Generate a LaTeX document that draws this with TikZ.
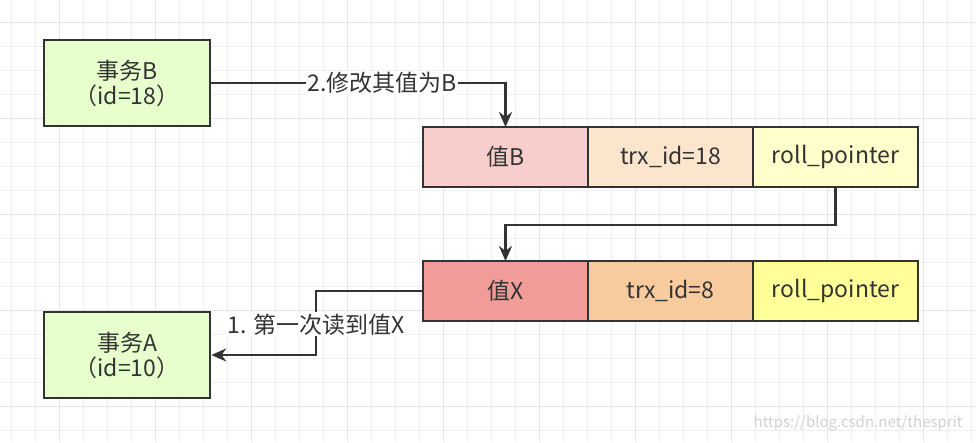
\documentclass[tikz,border=0pt]{standalone}
\usepackage{fontspec}
\setmainfont{Noto Sans CJK SC}
\usetikzlibrary{positioning,arrows.meta}

\definecolor{gridminor}{HTML}{EFEFEF}
\definecolor{gridmajor}{HTML}{E4E4E4}
\definecolor{inkgray}{HTML}{333333}
\definecolor{txgreen}{HTML}{E6FFCC}
\definecolor{valBred}{HTML}{F8CECC}
\definecolor{trxBorange}{HTML}{FCE5CD}
\definecolor{rollByellow}{HTML}{FFFFCC}
\definecolor{valXred}{HTML}{F19C99}
\definecolor{trxXorange}{HTML}{F7CB9E}
\definecolor{rollXyellow}{HTML}{FFFF99}

\tikzset{
  txbox/.style={draw=inkgray, line width=2.6pt, fill=txgreen, minimum width=166pt,
    minimum height=86pt, align=center, text=inkgray, font=\fontsize{23}{25}\selectfont},
  cell/.style={draw=inkgray, line width=2.6pt, minimum width=165pt, minimum height=60pt,
    outer sep=0pt, text=inkgray, font=\fontsize{23}{25}\selectfont},
  link/.style={draw=inkgray, line width=2.4pt, -{Stealth[length=15pt,width=13pt]}},
  lbl/.style={fill=white, text=inkgray, inner sep=1.5pt, font=\fontsize{23}{25}\selectfont},
}

\begin{document}
\begin{tikzpicture}[x=1pt, y=-1pt]
        \fill[white] (0,0) rectangle (976,442);
        \useasboundingbox (0,0) rectangle (976,442);
        % background grid
        \foreach \i in {0,...,40} {
            \pgfmathtruncatemacro{\ismajor}{mod(\i,4)==2}
            \ifnum\ismajor=1 \draw[gridmajor, line width=1pt] ({11.7+24*\i},0) -- ++(0,442);
            \else \draw[gridminor, line width=1pt] ({11.7+24*\i},0) -- ++(0,442); \fi
        }
        \foreach \j in {0,...,18} {
            \pgfmathtruncatemacro{\ismajor}{mod(\j,4)==0}
            \ifnum\ismajor=1 \draw[gridmajor, line width=1pt] (0,{22.7+24*\j}) -- ++(976,0);
            \else \draw[gridminor, line width=1pt] (0,{22.7+24*\j}) -- ++(976,0); \fi
        }

        % transactions
        \node[txbox] (txB) at (127,83) {事务B\\（id=18）};
        \node[txbox] (txA) at (127,355) {事务A\\（id=10）};

        % version chain
        \node[cell, fill=valBred] (valB) at (505.5,157) {值B};
        \node[cell, fill=trxBorange, right=0pt of valB] (trxB) {trx\_id=18};
        \node[cell, fill=rollByellow, right=0pt of trxB] (rollB) {roll\_pointer};
        \node[cell, fill=valXred] (valX) at (505.5,291) {值X};
        \node[cell, fill=trxXorange, right=0pt of valX] (trxX) {trx\_id=8};
        \node[cell, fill=rollXyellow, right=0pt of trxX] (rollX) {roll\_pointer};

        \coordinate (rollBend) at (rollB.south |- 0,225);
        \coordinate (readBend) at (316,291);

        \draw[link] (txB.east) -| node[lbl, pos=0.29] {2.修改其值为B} (valB.north);
        \draw[link] (rollB.south) -- (rollBend) -| (valX.north);
        \draw[link] (valX.west) -- (readBend) |- node[lbl, pos=0.26] {1. 第一次读到值X} (txA.east);

        \node[text=black!18, font=\fontsize{15}{17}\selectfont, anchor=east] (mark) at (966,423) {https://blog.csdn.net/thesprit};
    \end{tikzpicture}
\end{document}
